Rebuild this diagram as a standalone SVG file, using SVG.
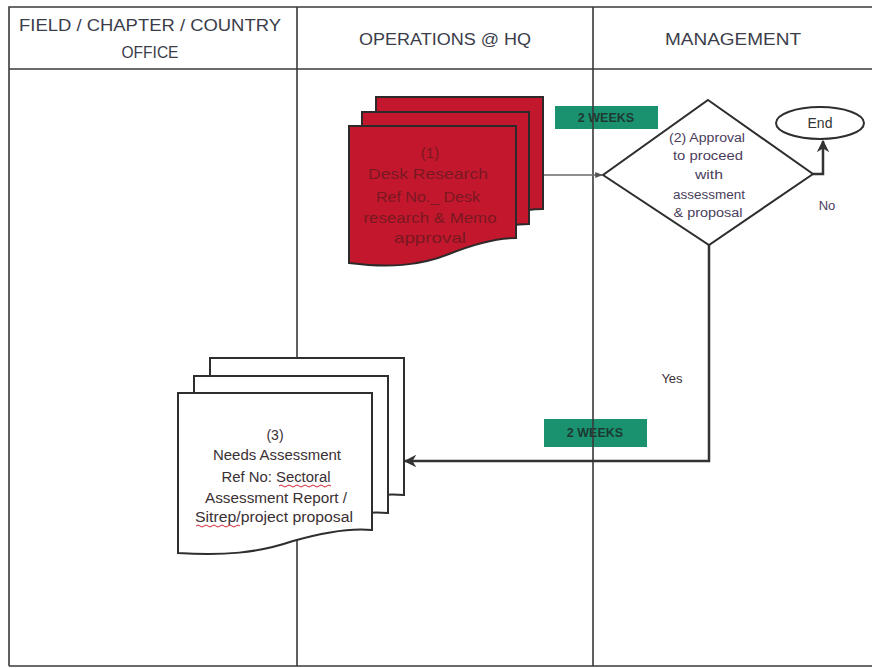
<svg xmlns="http://www.w3.org/2000/svg" xmlns:xlink="http://www.w3.org/1999/xlink" width="872" height="668" viewBox="0 0 872 668">
  <style>
    .grid { stroke: #3a3a3a; stroke-width: 1.6; fill: none; }
    .head { font-family: "Liberation Sans", Arial, sans-serif; font-size: 16px; fill: #3b3d4a; text-anchor: middle; }
    .red { fill: #c3172d; stroke: #2e2a2a; stroke-width: 2; }
    .paper { fill: #ffffff; stroke: #2e2e2e; stroke-width: 2; }
    .rtxt { font-family: "Liberation Sans", Arial, sans-serif; font-size: 15px; fill: #7a1822; text-anchor: middle; }
    .dtxt { font-family: "Liberation Sans", Arial, sans-serif; font-size: 12.5px; fill: #4a3d5c; text-anchor: middle; }
    .ntxt { font-family: "Liberation Sans", Arial, sans-serif; font-size: 14px; fill: #3a3034; text-anchor: middle; }
    .lbl { font-family: "Liberation Sans", Arial, sans-serif; font-size: 12.5px; font-weight: bold; fill: #1d3a32; text-anchor: middle; }
    .tag { fill: #1a9270; }
    .wire { stroke: #333333; stroke-width: 2.5; fill: none; }
    .thin { stroke: #6a6a6a; stroke-width: 1.5; fill: none; }
    .squig { stroke: #d0263a; stroke-width: 1; fill: none; }
  </style>
  <defs>
    <!-- document shapes with wavy bottom edge -->
    <path id="docA" d="M0,0 H167 V112 C150,112 130,116 100,128 C70,140 40,142 0,137 Z"/>
    <path id="docB" d="M0,0 H194 V137 C175,135 150,138 115,148 C80,160 45,163 0,160 Z"/>
    <marker id="arrow" viewBox="0 0 10 10" refX="9" refY="5" markerWidth="5" markerHeight="5" orient="auto" markerUnits="strokeWidth">
      <path d="M0,0 L10,5 L0,10 L3,5 Z" fill="#333333"/>
    </marker>
    <marker id="arrowSmall" viewBox="0 0 10 10" refX="9" refY="5" markerWidth="5" markerHeight="5" orient="auto" markerUnits="strokeWidth">
      <path d="M0,1 L10,5 L0,9 Z" fill="#555555"/>
    </marker>
  </defs>

  <rect width="872" height="668" fill="#ffffff"/>

  <!-- duration tags (lane lines run over them) -->
  <g id="tag-top">
    <rect class="tag" x="555" y="106" width="103" height="23"/>
    <text class="lbl" x="606" y="122">2 WEEKS</text>
  </g>
  <g id="tag-bottom">
    <rect class="tag" x="544" y="419" width="103" height="28"/>
    <text class="lbl" x="595" y="437">2 WEEKS</text>
  </g>

  <!-- swimlane table -->
  <g id="lanes">
    <path class="grid" d="M9,666 V7 H872 M9,69 H872 M9,666 H872 M297,7 V666 M593,7 V666"/>
    <text class="head" x="150" y="31" textLength="262" lengthAdjust="spacingAndGlyphs">FIELD / CHAPTER / COUNTRY</text>
    <text class="head" x="150" y="58" textLength="57" lengthAdjust="spacingAndGlyphs">OFFICE</text>
    <text class="head" x="445" y="45" textLength="172" lengthAdjust="spacingAndGlyphs">OPERATIONS @ HQ</text>
    <text class="head" x="733" y="45" textLength="136" lengthAdjust="spacingAndGlyphs">MANAGEMENT</text>
  </g>

  <!-- connectors -->
  <g id="connectors">
    <path class="thin" d="M542,175 H602" marker-end="url(#arrowSmall)"/>
    <path class="wire" d="M813,174 H823 V141" marker-end="url(#arrow)"/>
    <path class="wire" d="M709,245 V461 H405" marker-end="url(#arrow)"/>
    <text class="dtxt" x="827" y="210" style="font-size:13px">No</text>
    <text class="dtxt" x="672" y="383" style="font-size:13px;fill:#3a3034">Yes</text>
  </g>

  <!-- (1) Desk research stack -->
  <g id="node-desk-research">
    <use xlink:href="#docA" class="red" transform="translate(376,97)"/>
    <use xlink:href="#docA" class="red" transform="translate(362,112)"/>
    <use xlink:href="#docA" class="red" transform="translate(349,126)"/>
    <text class="rtxt" x="430" y="158">(1)</text>
    <text class="rtxt" x="428" y="179" textLength="120" lengthAdjust="spacingAndGlyphs">Desk Research</text>
    <text class="rtxt" x="428" y="202" textLength="104" lengthAdjust="spacingAndGlyphs">Ref No._ Desk</text>
    <text class="rtxt" x="430" y="223" textLength="133" lengthAdjust="spacingAndGlyphs">research &amp; Memo</text>
    <text class="rtxt" x="430" y="243" textLength="72" lengthAdjust="spacingAndGlyphs">approval</text>
  </g>

  <!-- (2) Approval decision -->
  <g id="node-approval">
    <path class="paper" d="M708,100 L813,174 L709,245 L603,175 Z"/>
    <text class="dtxt" x="707" y="142" textLength="76" lengthAdjust="spacingAndGlyphs">(2) Approval</text>
    <text class="dtxt" x="708" y="160" textLength="70" lengthAdjust="spacingAndGlyphs">to proceed</text>
    <text class="dtxt" x="709" y="179" textLength="28" lengthAdjust="spacingAndGlyphs">with</text>
    <text class="dtxt" x="709" y="199" textLength="72" lengthAdjust="spacingAndGlyphs">assessment</text>
    <text class="dtxt" x="708" y="217" textLength="69" lengthAdjust="spacingAndGlyphs">&amp; proposal</text>
  </g>

  <!-- End terminator -->
  <g id="node-end">
    <ellipse class="paper" cx="820" cy="123" rx="44" ry="16"/>
    <text class="dtxt" x="820" y="128" style="font-size:14px;fill:#333">End</text>
  </g>

  <!-- (3) Needs assessment stack -->
  <g id="node-needs-assessment">
    <use xlink:href="#docB" class="paper" transform="translate(210,358)"/>
    <use xlink:href="#docB" class="paper" transform="translate(194,376)"/>
    <use xlink:href="#docB" class="paper" transform="translate(178,393)"/>
    <text class="ntxt" x="275" y="440">(3)</text>
    <text class="ntxt" x="277" y="460" textLength="128" lengthAdjust="spacingAndGlyphs">Needs Assessment</text>
    <text class="ntxt" x="276" y="482" textLength="109" lengthAdjust="spacingAndGlyphs">Ref No: Sectoral</text>
    <text class="ntxt" x="276" y="503" textLength="142" lengthAdjust="spacingAndGlyphs">Assessment Report /</text>
    <text class="ntxt" x="274" y="522" textLength="158" lengthAdjust="spacingAndGlyphs">Sitrep/project proposal</text>
    <path class="squig" d="M279,486 q2,-2 4,0 t4,0 t4,0 t4,0 t4,0 t4,0 t4,0 t4,0 t4,0 t4,0 t4,0 t4,0 t4,0"/>
    <path class="squig" d="M196,526 q2,-2 4,0 t4,0 t4,0 t4,0 t4,0 t4,0 t4,0 t4,0 t4,0 t4,0 t4,0"/>
  </g>
</svg>
